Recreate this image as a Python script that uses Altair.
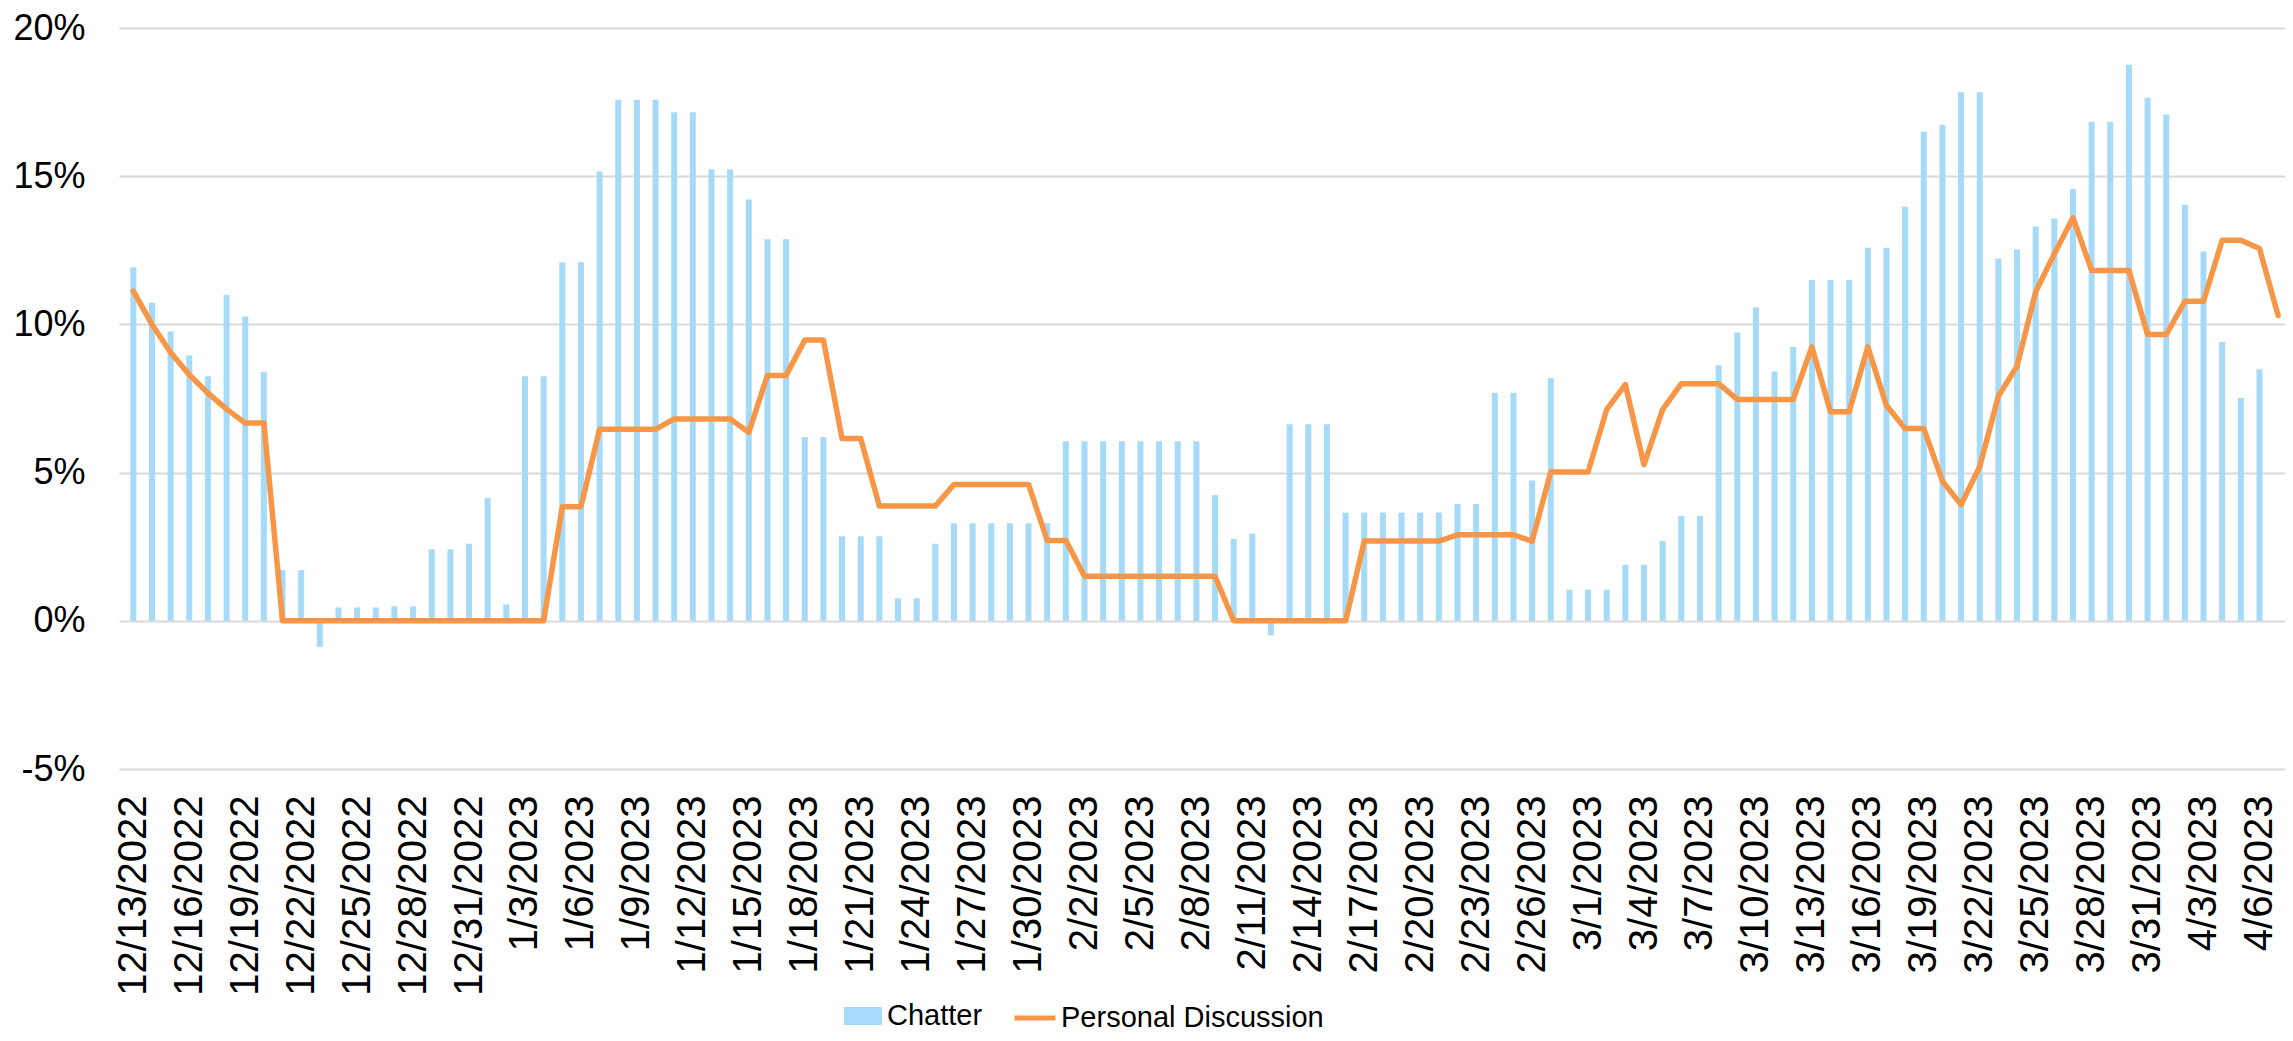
import altair as alt
import pandas as pd

# Categories: one per day (the 116th day only carries the clipped end of the line)
dates = [d.strftime("%-m/%-d/%Y") for d in pd.date_range("2022-12-13", "2023-04-07")]

chatter = [
    11.92, 10.73, 9.76, 8.95, 8.25, 11.0, 10.27, 8.39, 1.71, 1.71,
    -0.88, 0.45, 0.45, 0.45, 0.49, 0.49, 2.41, 2.41, 2.6, 4.15,
    0.55, 8.25, 8.25, 12.1, 12.1, 15.16, 17.58, 17.58, 17.58, 17.16,
    17.16, 15.23, 15.23, 14.21, 12.87, 12.87, 6.2, 6.2, 2.85, 2.85,
    2.85, 0.76, 0.76, 2.6, 3.29, 3.29, 3.29, 3.29, 3.29, 3.29,
    6.06, 6.06, 6.06, 6.06, 6.06, 6.06, 6.06, 6.06, 4.24, 2.76,
    2.94, -0.49, 6.63, 6.63, 6.63, 3.65, 3.65, 3.65, 3.65, 3.65,
    3.65, 3.94, 3.94, 7.69, 7.69, 4.73, 8.18, 1.05, 1.05, 1.05,
    1.89, 1.89, 2.69, 3.54, 3.54, 8.62, 9.73, 10.57, 8.41, 9.24,
    11.5, 11.5, 11.5, 12.59, 12.59, 13.97, 16.5, 16.74, 17.83, 17.83,
    12.22, 12.53, 13.3, 13.57, 14.57, 16.84, 16.84, 18.76, 17.65, 17.08,
    14.04, 12.46, 9.41, 7.52, 8.49,
]

personal = [
    11.12, 10.0, 9.05, 8.3, 7.68, 7.14, 6.67, 6.67, 0, 0,
    0, 0, 0, 0, 0, 0, 0, 0, 0, 0,
    0, 0, 0, 3.85, 3.85, 6.46, 6.46, 6.46, 6.46, 6.81,
    6.81, 6.81, 6.81, 6.36, 8.28, 8.28, 9.47, 9.47, 6.15, 6.15,
    3.87, 3.87, 3.87, 3.87, 4.6, 4.6, 4.6, 4.6, 4.6, 2.71,
    2.71, 1.5, 1.5, 1.5, 1.5, 1.5, 1.5, 1.5, 1.5, 0,
    0, 0, 0, 0, 0, 0, 2.69, 2.69, 2.69, 2.69,
    2.69, 2.9, 2.9, 2.9, 2.9, 2.69, 5.02, 5.02, 5.02, 7.13,
    7.97, 5.27, 7.13, 8.0, 8.0, 8.0, 7.47, 7.47, 7.47, 7.47,
    9.24, 7.05, 7.05, 9.24, 7.26, 6.49, 6.49, 4.71, 3.92, 5.2,
    7.58, 8.59, 11.1, 12.38, 13.6, 11.82, 11.82, 11.82, 9.66, 9.66,
    10.78, 10.78, 12.84, 12.84, 12.56, 10.3,
]

series_names = ["Chatter", "Personal Discussion"]
tick_idx = list(range(1, 116, 3))

FONT = "Liberation Sans"

df = pd.DataFrame({
    "idx": list(range(1, len(dates) + 1)),
    "date": dates,
    "chatter": chatter + [None] * (len(dates) - len(chatter)),
    "personal": personal,
    "s1": series_names[0],
    "s2": series_names[1],
})

label_array = "[" + ",".join("'" + d + "'" for d in dates) + "]"

x_enc = alt.X(
    "idx:Q",
    title=None,
    scale=alt.Scale(domain=[0.5, 116.1], nice=False, zero=False),
    axis=alt.Axis(
        values=tick_idx,
        labelExpr=label_array + "[datum.value - 1]",
        labelAngle=-90,
        labelFontSize=40,
        labelFont=FONT,
        labelColor="black",
        labelPadding=26,
        labelLimit=0,
        ticks=False,
        tickSize=0,
        domain=False,
        grid=False,
        labelOverlap=False,
        labelBound=False,
        labelFlush=False,
    ),
)

y_axis = alt.Axis(
    values=[-5, 0, 5, 10, 15, 20],
    labelExpr="datum.value + '%'",
    labelFontSize=36,
    labelFont=FONT,
    labelColor="black",
    labelPadding=34,
    ticks=False,
    tickSize=0,
    domain=False,
    grid=True,
    gridColor="#D9D9D9",
    gridWidth=2,
    title=None,
)
y_scale = alt.Scale(domain=[-5, 20], nice=False)

bars = alt.Chart(df).transform_filter("datum.chatter != null").mark_bar(size=6, clip=True).encode(
    x=x_enc,
    y=alt.Y("chatter:Q", scale=y_scale, axis=y_axis),
    color=alt.Color(
        "s1:N",
        scale=alt.Scale(domain=[series_names[0]], range=["#A6DAF9"]),
        legend=alt.Legend(
            title=None, orient="none", legendX=725, legendY=969,
            symbolType="M-1,-0.47H1V0.47H-1Z", symbolSize=1444,
            symbolStrokeWidth=0, symbolOpacity=1,
            labelFontSize=29, labelFont=FONT, labelColor="black",
            labelOffset=5, padding=0, labelLimit=0,
        ),
    ),
)

line = alt.Chart(df).mark_line(strokeWidth=5.5, strokeJoin="round", strokeCap="round", clip=True).encode(
    x=x_enc,
    y=alt.Y("personal:Q", scale=y_scale, axis=y_axis),
    stroke=alt.Stroke(
        "s2:N",
        scale=alt.Scale(domain=[series_names[1]], range=["#F79646"]),
        legend=alt.Legend(
            title=None, orient="none", legendX=893, legendY=967,
            symbolType="stroke", symbolSize=1681, symbolStrokeWidth=5,
            symbolOpacity=1,
            labelFontSize=29, labelFont=FONT, labelColor="black",
            labelOffset=3, padding=0, labelLimit=0,
        ),
    ),
)

chart = alt.layer(bars, line).properties(
    width=2166,
    height=741,
    padding={"left": 111, "top": 20, "right": 0, "bottom": 264},
    autosize=alt.AutoSizeParams(type="none"),
    background="white",
).configure_view(stroke=None)

chart.save("out.html", embed_options={"renderer": "svg", "actions": False})
